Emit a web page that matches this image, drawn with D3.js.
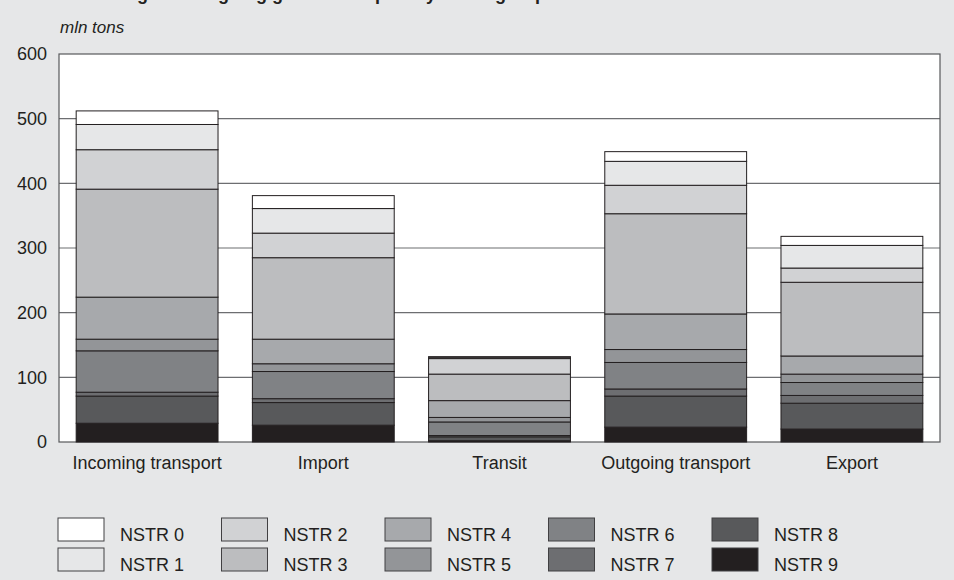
<!DOCTYPE html>
<html>
<head>
<meta charset="utf-8">
<script src="https://cdn.jsdelivr.net/npm/d3@7"></script>
<style>
  html, body { margin: 0; padding: 0; background: #e6e7e8; }
  svg { display: block; font-family: "Liberation Sans", Arial, sans-serif; }
</style>
</head>
<body>
<svg id="chart" width="954" height="580"></svg>
<script>
// ---- data ----
const categories = ["Incoming transport", "Import", "Transit", "Outgoing transport", "Export"];
const seriesNames = ["NSTR 0", "NSTR 1", "NSTR 2", "NSTR 3", "NSTR 4", "NSTR 5", "NSTR 6", "NSTR 7", "NSTR 8", "NSTR 9"];
const nstr0 = [21, 20, 1, 15, 14];
const nstr1 = [39, 38, 2, 37, 35];
const nstr2 = [61, 38, 24, 44, 22];
const nstr3 = [167, 126, 41, 155, 114];
const nstr4 = [65, 38, 26, 55, 28];
const nstr5 = [18, 12, 7, 20, 13];
const nstr6 = [64, 42, 21, 41, 20];
const nstr7 = [6, 6, 2, 11, 12];
const nstr8 = [42, 35, 6, 48, 40];
const nstr9 = [29, 26, 2, 23, 20];
const yTicks = [0, 100, 200, 300, 400, 500, 600];
const seriesValues = [nstr0, nstr1, nstr2, nstr3, nstr4, nstr5, nstr6, nstr7, nstr8, nstr9];
const colors = ["#ffffff", "#e6e7e8", "#d1d2d4", "#bcbdbf", "#a7a9ac", "#939598", "#808285", "#6d6e71", "#58595b", "#231f20"];

// table for stack
const table = categories.map((c, i) => {
  const row = { category: c };
  seriesNames.forEach((s, k) => { row[s] = seriesValues[k][i]; });
  return row;
});
// stack from bottom: NSTR 9 first
const stackKeys = seriesNames.slice().reverse();
const stacked = d3.stack().keys(stackKeys)(table);
const colorOf = d3.scaleOrdinal().domain(seriesNames).range(colors);

const FONT = "'Liberation Sans', Arial, sans-serif";
const svg = d3.select("#chart");
const W = 954, H = 580;
const plot = { left: 59, right: 940, top: 54, bottom: 442 };

svg.append("rect").attr("width", W).attr("height", H).attr("fill", "#e6e7e8");

// title: only its lower part is visible in the reference (cut by the top edge)
svg.append("text")
  .attr("x", 68).attr("y", -0.5)
  .attr("font-size", 18).attr("font-weight", "bold").attr("fill", "#231f20")
  .text("Incoming and outgoing goods transport by NSTR group");

const x = d3.scaleBand().domain(categories).range([plot.left, plot.right]).paddingInner(0.195).paddingOuter(0.0975);
const y = d3.scaleLinear().domain([0, 600]).range([plot.bottom, plot.top]);

// plot background
svg.append("rect")
  .attr("x", plot.left).attr("y", plot.top)
  .attr("width", plot.right - plot.left).attr("height", plot.bottom - plot.top)
  .attr("fill", "#ffffff");

// gridlines
svg.append("g").selectAll("line").data(yTicks.filter(t => t > 0 && t < 600)).join("line")
  .attr("x1", plot.left).attr("x2", plot.right)
  .attr("y1", d => y(d)).attr("y2", d => y(d))
  .attr("stroke", "#6d6e71").attr("stroke-width", 1.2);

// frame
svg.append("rect")
  .attr("x", plot.left).attr("y", plot.top)
  .attr("width", plot.right - plot.left).attr("height", plot.bottom - plot.top)
  .attr("fill", "none").attr("stroke", "#58595b").attr("stroke-width", 1.2);

// bars
const layers = svg.append("g").selectAll("g").data(stacked).join("g")
  .attr("fill", d => colorOf(d.key));
layers.selectAll("rect").data(d => d).join("rect")
  .attr("x", d => x(d.data.category))
  .attr("width", x.bandwidth())
  .attr("y", d => y(d[1]))
  .attr("height", d => y(d[0]) - y(d[1]))
  .attr("stroke", "#231f20").attr("stroke-width", 1);

// y axis labels
const yAxis = d3.axisLeft(y).tickValues(yTicks).tickSize(0).tickPadding(12);
const gy = svg.append("g").attr("transform", `translate(${plot.left},0)`).call(yAxis);
gy.select(".domain").remove();
gy.selectAll("text").attr("font-size", 18).attr("fill", "#231f20").attr("font-family", FONT);

// x axis labels
const xAxis = d3.axisBottom(x).tickSize(0).tickPadding(14);
const gx = svg.append("g").attr("transform", `translate(0,${plot.bottom})`).call(xAxis);
gx.select(".domain").remove();
gx.selectAll("text").attr("font-size", 18).attr("fill", "#231f20").attr("font-family", FONT);

// unit label
svg.append("text").attr("x", 60).attr("y", 33)
  .attr("font-size", 17).attr("font-style", "italic").attr("fill", "#231f20")
  .text("mln tons");

// legend
const legend = svg.append("g");
const legItems = legend.selectAll("g").data(seriesNames).join("g")
  .attr("transform", (d, i) => `translate(${58 + Math.floor(i / 2) * 163.5},${518 + (i % 2) * 30})`);
legItems.append("rect")
  .attr("width", 46).attr("height", 23)
  .attr("fill", d => colorOf(d))
  .attr("stroke", "#414042").attr("stroke-width", 1);
legItems.append("text")
  .attr("x", 62).attr("y", 22.5)
  .attr("font-size", 18).attr("fill", "#231f20")
  .text(d => d);
</script>
</body>
</html>
